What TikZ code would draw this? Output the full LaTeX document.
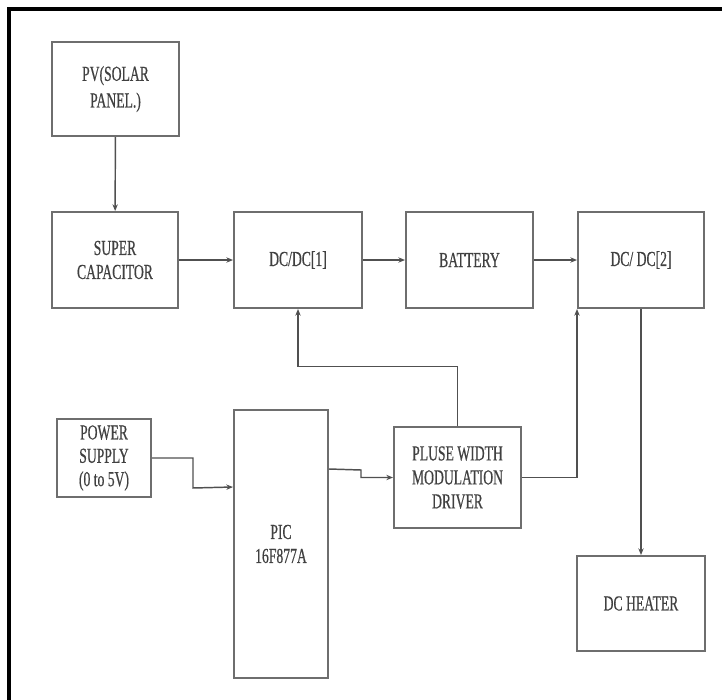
\documentclass[tikz,border=0pt]{standalone}
\usepackage{fontspec}
\setmainfont{Liberation Serif}[FakeStretch=0.64,FakeBold=0.5]
\usetikzlibrary{arrows.meta}
\definecolor{boxc}{HTML}{6E6E6E}
\definecolor{linec}{HTML}{505050}
\definecolor{txtc}{HTML}{404040}
\tikzset{
  blk/.style={draw=boxc, line width=1.5pt, fill=white, inner sep=0pt, align=center,
    text=txtc, font=\fontsize{16}{18}\selectfont},
  arr/.style={draw=linec, line width=1.1pt, -{Stealth[length=5pt,width=4pt]}},
  ln/.style={draw=linec, line width=1pt}
}
\begin{document}
\begin{tikzpicture}[x=0.75pt,y=-0.75pt]
\useasboundingbox (0,0) rectangle (722,700);
\fill[white] (0,0) rectangle (722,700);
\draw[black, line width=2.4pt] (9,700) -- (9,9) -- (722,9);

\node[blk, minimum width=95.25pt, minimum height=70.5pt, font=\fontsize{16}{20}\selectfont] (pv) at (115.5,89) {PV(SOLAR\\PANEL.)};
\node[blk, minimum width=94.5pt, minimum height=72pt] (sc) at (115,260) {SUPER\\CAPACITOR};
\node[blk, minimum width=96pt, minimum height=72pt] (dc1) at (298,260) {DC/DC[1]};
\node[blk, minimum width=95.25pt, minimum height=72pt] (bat) at (469.5,260) {BATTERY};
\node[blk, minimum width=94.5pt, minimum height=72pt] (dc2) at (641,260) {DC/ DC[2]};
\node[blk, minimum width=70.5pt, minimum height=58.5pt, font=\fontsize{16}{17.5}\selectfont] (ps) at (104,458) {POWER\\SUPPLY\\(0 to 5V)};
\node[blk, minimum width=70.5pt, minimum height=201pt] (pic) at (281,544) {PIC\\16F877A};
\node[blk, minimum width=95.25pt, minimum height=75.75pt] (pwm) at (457.5,477.5) {PLUSE WIDTH\\MODULATION\\DRIVER};
\node[blk, minimum width=96pt, minimum height=71.25pt] (heat) at (641,603.5) {DC HEATER};

\draw[arr] (pv) -- (sc);
\draw[arr] (sc) -- (dc1);
\draw[arr] (dc1) -- (bat);
\draw[arr] (bat) -- (dc2);
\draw[arr] (ps.east) -- (193,458) -- (193,488) -- ([yshift=-58.5pt]pic.north west);
\draw[arr] ([yshift=-45pt]pic.north east) -- (361,470) -- (361,477.5) -- (pwm.west);
\draw[arr] (pwm.north) -- ++(0,-59.5) -| (dc1.south);
\draw[arr] (pwm.east) -| (dc2.south west);
\draw[arr] (dc2.south) -- (heat.north);
\end{tikzpicture}
\end{document}
